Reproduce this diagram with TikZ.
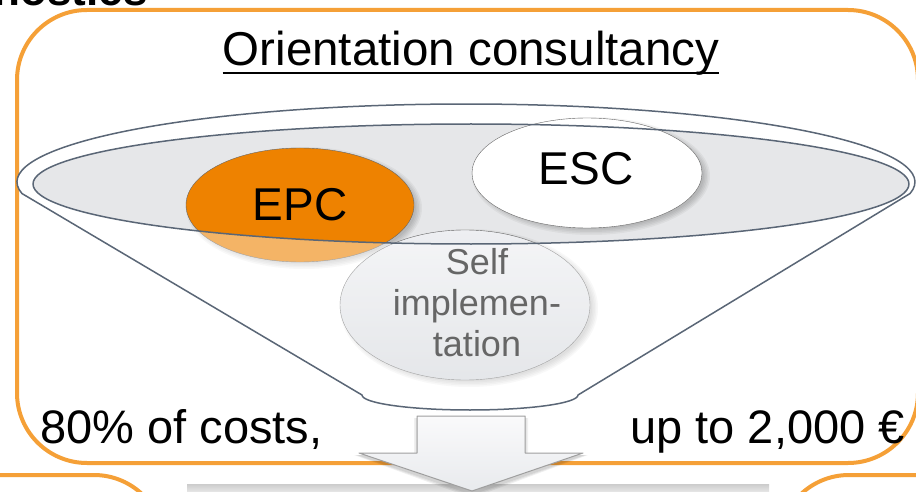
\documentclass[tikz,border=0pt]{standalone}
\usepackage{fontspec}
\setmainfont{Liberation Sans}
\usetikzlibrary{shapes.geometric}
\definecolor{orangeline}{RGB}{245,160,55}
\definecolor{epcorange}{RGB}{238,130,0}
\definecolor{slate}{RGB}{90,102,118}
\definecolor{innergray}{RGB}{230,231,233}
\definecolor{selftop}{RGB}{238,239,242}
\definecolor{selfbot}{RGB}{212,215,220}
\definecolor{selftext}{RGB}{102,102,102}
\definecolor{arrowtop}{RGB}{250,250,251}
\definecolor{arrowbot}{RGB}{232,234,237}
\newcommand\myshadow[4]{\foreach \s in {0,1.5,3,4.5,6}{\fill[black,opacity=0.045] (#1+4,#2+3) ellipse[x radius=#3+\s-2, y radius=#4+\s-2];}}
\begin{document}
\begin{tikzpicture}[x=1pt,y=-1pt,line join=round,
  obox/.style={draw=orangeline,line width=4pt,rounded corners=70pt},
  ball/.style={ellipse,inner sep=0pt,draw=black!60,line width=0.4pt},
  bigtext/.style={inner sep=0pt,font=\fontsize{46}{50}\selectfont}]
\useasboundingbox (0,0) rectangle (916,492);
\fill[white] (0,0) rectangle (916,492);
% orange boxes
\draw[obox] (17,10) rectangle (918,463);
\draw[obox] (-100,475) rectangle (164,600);
\draw[obox] (779,475) rectangle (1000,600);
% lower grey box
\shade[top color=gray!40,bottom color=gray!8] (187,484) rectangle (769,496);
% funnel silhouette
\fill[white] (466,182) ++(171.5:449 and 78) arc[start angle=171.5,end angle=368.5,x radius=449,y radius=78]
   -- (578,395) arc[start angle=0,end angle=180,x radius=108,y radius=15] -- cycle;
% funnel opening
\fill[innergray] (471,184) ellipse[x radius=438,y radius=60];
% balls
\myshadow{300}{205}{114}{57}
\node[ball,fill=epcorange,minimum width=228pt,minimum height=114pt] (epc) at (300,205) {};
\myshadow{587}{173}{115}{55}
\node[ball,fill=white,minimum width=230pt,minimum height=110pt] (esc) at (587,173) {};
\myshadow{465}{305}{125}{75}
\node[ball,top color=selftop,bottom color=selfbot,minimum width=250pt,minimum height=150pt] (self) at (465,305) {};
\node[bigtext,anchor=base] (epct) at (300,220) {EPC};
\node[bigtext,anchor=base] (esct) at (586,185) {ESC};
% translucent front of funnel
\fill[white,opacity=0.4] (33,184) arc[start angle=180,end angle=0,x radius=438,y radius=60]
   -- (910,193.5) -- (578,395) arc[start angle=0,end angle=180,x radius=108,y radius=15] -- (22,193.5) -- cycle;
\node[inner sep=0pt,align=center,text=selftext,font=\fontsize{36}{41}\selectfont] (selft) at (477,303) {Self\\implemen-\\tation};
% outlines
\draw[slate,line width=1.5pt] (471,184) ellipse[x radius=438,y radius=60];
\draw[slate,line width=1.5pt] (466,182) ++(171.5:449 and 78) arc[start angle=171.5,end angle=368.5,x radius=449,y radius=78]
   -- (578,395) arc[start angle=0,end angle=180,x radius=108,y radius=15] -- cycle;
% texts
\node[inner sep=0pt,anchor=base,font=\fontsize{47.5}{50}\selectfont] (title) at (471,66) {Orientation consultancy};
\draw[line width=2.4pt] ([yshift=-7pt]title.base west) -- ([yshift=-7pt]title.base east);
\node[inner sep=0pt,anchor=base west,font=\fontsize{47}{50}\selectfont] (costs) at (40,443) {80\% of costs,};
\node[inner sep=0pt,anchor=base east,font=\fontsize{47}{50}\selectfont] (upto) at (905,443) {up to 2,000 €};
% down arrow
\foreach \s in {0,1.5,3}{\fill[black,opacity=0.06] (417-\s,418) -- (525+\s,418) -- (525+\s,455) -- (585+\s,455) -- (472,495+\s) -- (357-\s,455) -- (417-\s,455) -- cycle;}
\path[draw=gray!75,line width=1pt,top color=arrowtop,bottom color=arrowbot] (417,416) -- (525,416) -- (525,453) -- (583,453) -- (472,491) -- (359,453) -- (417,453) -- cycle;
% heading cut at the top
\node[inner sep=0pt,anchor=base east,font=\bfseries\fontsize{44}{48}\selectfont] (diag) at (148,6) {Diagnostics};
\end{tikzpicture}
\end{document}
